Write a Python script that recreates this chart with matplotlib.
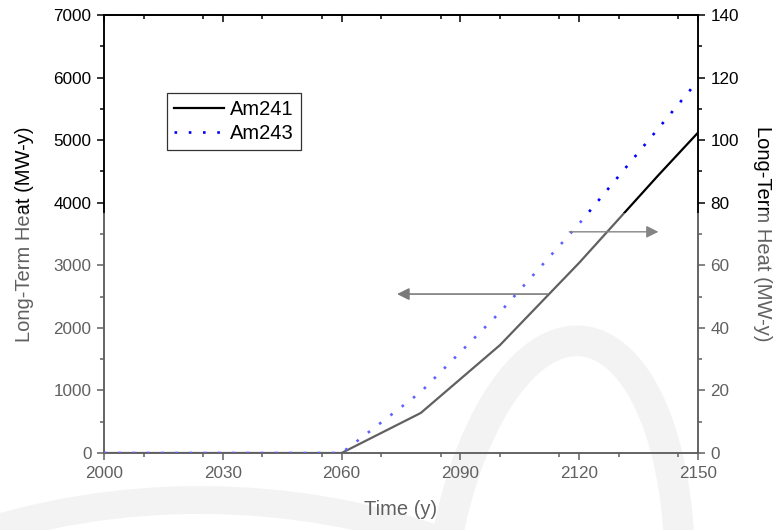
import matplotlib
matplotlib.use("Agg")
import matplotlib.pyplot as plt
from matplotlib.ticker import MultipleLocator
from matplotlib.patches import Arc, Rectangle
from matplotlib.transforms import IdentityTransform

plt.rcParams['font.family'] = ['Liberation Sans', 'DejaVu Sans']

# Data
years_am241 = [2000, 2060, 2080, 2100, 2120, 2140, 2150]
heat_am241 = [0, 0, 640, 1725, 3040, 4440, 5120]          # left axis (MW-y)
years_am243 = [2000, 2060, 2080, 2100, 2120, 2150]
heat_am243 = [0, 0, 19.5, 45, 73.3, 119]                   # right axis (MW-y)

x_ticks = [2000, 2030, 2060, 2090, 2120, 2150]
left_ticks = [0, 1000, 2000, 3000, 4000, 5000, 6000, 7000]
right_ticks = [0, 20, 40, 60, 80, 100, 120, 140]

W, H = 779, 530
fig = plt.figure(figsize=(W / 100, H / 100), dpi=100)

# faint watermark shapes (behind the axes)
wm = '#ececec'
fig.add_artist(Arc((558, -80), 240, 540, angle=-5, theta1=0, theta2=180,
                   color=wm, lw=22, transform=IdentityTransform(), zorder=-5))
fig.add_artist(Arc((200, -300), 1000, 660, theta1=25, theta2=160,
                   color=wm, lw=20, transform=IdentityTransform(), zorder=-5))

ax = fig.add_axes([104 / W, 77 / H, 594 / W, 438 / H])
ax.patch.set_alpha(0)
ax2 = ax.twinx()

ax.plot(years_am241, heat_am241, color='black', lw=1.6, label='Am241', zorder=3)
ax2.plot(years_am243, heat_am243, color='#0000ff', lw=1.9, ls=(0, (1, 4.4)),
         label='Am243', zorder=3)

ax.set_xlim(2000, 2150)
ax.set_ylim(0, 7000)
ax2.set_ylim(0, 140)
ax.set_xticks(x_ticks)
ax.xaxis.set_minor_locator(MultipleLocator(15))
ax.set_yticks(left_ticks)
ax.yaxis.set_minor_locator(MultipleLocator(500))
ax2.set_yticks(right_ticks)
ax2.yaxis.set_minor_locator(MultipleLocator(10))

tick_fs = 12.3
ax.tick_params(axis='both', which='major', direction='out', length=5, width=1.1,
               labelsize=tick_fs, pad=4)
ax.tick_params(axis='both', which='minor', direction='out', length=3, width=1.1)
ax2.tick_params(axis='y', which='major', direction='out', length=5, width=1.1,
                labelsize=tick_fs, pad=4)
ax2.tick_params(axis='y', which='minor', direction='out', length=3, width=1.1)

sec = ax.secondary_xaxis('top')
sec.set_xticks(x_ticks)
sec.xaxis.set_minor_locator(MultipleLocator(15))
sec.tick_params(axis='x', which='major', direction='in', length=5, width=1.1,
                labeltop=False)
sec.tick_params(axis='x', which='minor', direction='in', length=3, width=1.1)
sec.spines['top'].set_linewidth(1.1)

for a in (ax, ax2):
    for s in a.spines.values():
        s.set_linewidth(1.1)

ax.set_xlabel('Time (y)', fontsize=14.5, labelpad=14)
ax.set_ylabel('Long-Term Heat (MW-y)', fontsize=14.5, labelpad=14)
ax2.set_ylabel('Long-Term Heat (MW-y)', fontsize=14.5, rotation=270, labelpad=24)

# arrows indicating axes
ax.annotate('', xy=(2074, 2540), xytext=(2112, 2540),
            arrowprops=dict(arrowstyle='-|>', color='#2a2a2a', lw=1.2,
                            mutation_scale=18, shrinkA=0, shrinkB=0))
ax2.annotate('', xy=(2140, 70.7), xytext=(2117.5, 70.7),
             arrowprops=dict(arrowstyle='-|>', color='#3a3a3a', lw=1.0,
                             mutation_scale=18, shrinkA=0, shrinkB=0))

h1, l1 = ax.get_legend_handles_labels()
h2, l2 = ax2.get_legend_handles_labels()
leg = ax.legend(h1 + h2, l1 + l2, loc='upper left', bbox_to_anchor=(0.106, 0.822),
                fontsize=14.5, frameon=True, fancybox=False, handlelength=2.5,
                handletextpad=0.3, borderpad=0.35, labelspacing=0.25,
                borderaxespad=0)
leg.get_frame().set_edgecolor('black')
leg.get_frame().set_linewidth(0.9)
leg.set_zorder(10)

# fade overlay over the lower part of the picture
fig.add_artist(Rectangle((0, 0), 1, (H - 213) / H, transform=fig.transFigure,
                         facecolor='white', edgecolor='none', alpha=0.38, zorder=20))

fig.savefig('out.png', dpi=100)
